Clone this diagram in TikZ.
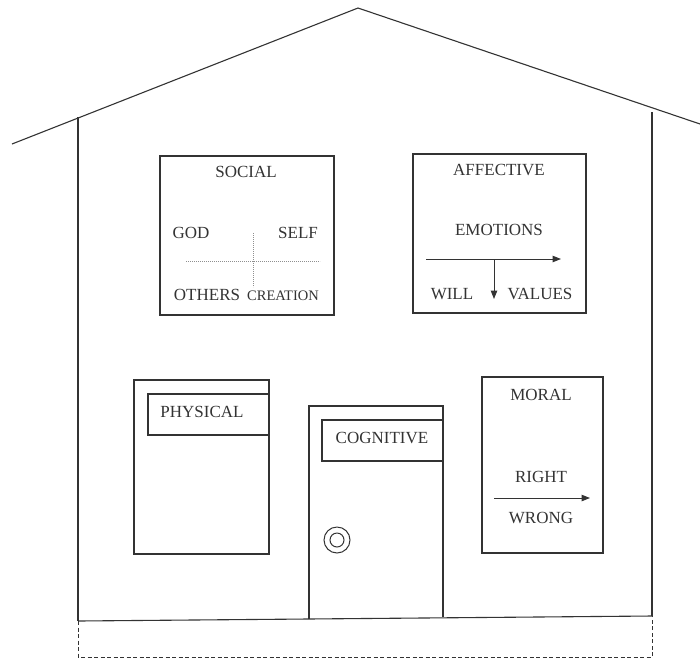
\documentclass[tikz,border=0pt]{standalone}
\usepackage{fontspec}
\setmainfont{Liberation Serif}
\usetikzlibrary{arrows.meta}
\definecolor{ink}{HTML}{333333}
\tikzset{
  wall/.style={draw=ink, line width=1.1pt},
  room/.style={draw=ink, line width=1.1pt, inner sep=0pt},
  label/.style={font=\fontsize{17}{17}\selectfont, text=ink, inner sep=0pt},
  small/.style={font=\fontsize{14.5}{14.5}\selectfont, text=ink, inner sep=0pt},
  guide/.style={draw=ink!55, line width=0.9pt, dash pattern=on 1.2pt off 0.8pt},
  pointer/.style={draw=ink, line width=1pt, -{Triangle[length=8.5pt,width=6.5pt]}},
  found/.style={draw=ink, line width=1pt, dash pattern=on 4pt off 2.5pt}
}
\begin{document}
\begin{tikzpicture}[x=1pt, y=-1pt]
\useasboundingbox (0,0) rectangle (700,659);
\fill[white] (0,0) rectangle (700,659);

% roof and outer walls
\coordinate (roofL) at (12,144);
\coordinate (peak) at (358,8);
\coordinate (roofR) at (700,124);
\draw[wall] (roofL) -- (peak) -- (roofR);
\coordinate (wallLtop) at (78,117);
\coordinate (wallLbot) at (78,621);
\coordinate (wallRtop) at (652,112);
\coordinate (wallRbot) at (652,616);
\draw[wall] (wallLtop) -- (wallLbot);
\draw[wall] (wallRtop) -- (wallRbot);
\draw[wall] (wallLbot) -- (wallRbot);

% dashed foundation
\coordinate (fL) at (78,657);
\coordinate (fR) at (652,657);
\draw[found] (wallLbot) -- (fL) -- (fR) -- (wallRbot);

% SOCIAL window
\node[room, minimum width=174pt, minimum height=159pt] (social) at (247,235.5) {};
\node[label] (soc) at (246,172) {SOCIAL};
\node[label] (god) at (191,233) {GOD};
\node[label] (self) at (298,233) {SELF};
\node[label] (others) at (207,295) {OTHERS};
\node[small] (creation) at (283,295.5) {CREATION};
\coordinate (hL) at (186,261);
\coordinate (hR) at (320,261);
\coordinate (vT) at (253,233);
\coordinate (vB) at (253,287);
\draw[guide] (hL) -- (hR);
\draw[guide] (vT) -- (vB);

% AFFECTIVE window
\node[room, minimum width=173pt, minimum height=159pt] (affective) at (499.5,233.5) {};
\node[label] (aff) at (499,170) {AFFECTIVE};
\node[label] (emotions) at (499,230) {EMOTIONS};
\node[label] (will) at (452,294) {WILL};
\node[label] (values) at (540,294) {VALUES};
\coordinate (eL) at (426,259);
\coordinate (eR) at (561,259);
\coordinate (dT) at (494,259);
\coordinate (dB) at (494,299);
\draw[pointer] (eL) -- (eR);
\draw[pointer] (dT) -- (dB);

% PHYSICAL window
\node[room, minimum width=135pt, minimum height=174pt] (physical) at (201.5,467) {};
\node[room, minimum width=121pt, minimum height=41pt] (physlab) at (208.5,414.5) {};
\node[label] (phys) at (202,411.5) {PHYSICAL};

% COGNITIVE door
\coordinate (doorBL) at (309,619);
\coordinate (doorTL) at (309,406);
\coordinate (doorTR) at (443,406);
\coordinate (doorBR) at (443,617);
\draw[wall] (doorBL) -- (doorTL) -- (doorTR) -- (doorBR);
\node[room, minimum width=121pt, minimum height=41pt] (coglab) at (382.5,440.5) {};
\node[label] (cog) at (382,437.5) {COGNITIVE};
\node[draw=ink, line width=1pt, circle, minimum size=26pt, inner sep=0pt] (knob) at (337,540) {};
\node[draw=ink, line width=1pt, circle, minimum size=14pt, inner sep=0pt] (knobin) at (knob.center) {};

% MORAL window
\node[room, minimum width=121pt, minimum height=176pt] (moral) at (542.5,465) {};
\node[label] (mor) at (541,395) {MORAL};
\node[label] (right) at (541,477) {RIGHT};
\node[label] (wrong) at (541,518) {WRONG};
\coordinate (mL) at (494,498);
\coordinate (mR) at (590,498);
\draw[pointer] (mL) -- (mR);
\end{tikzpicture}
\end{document}
